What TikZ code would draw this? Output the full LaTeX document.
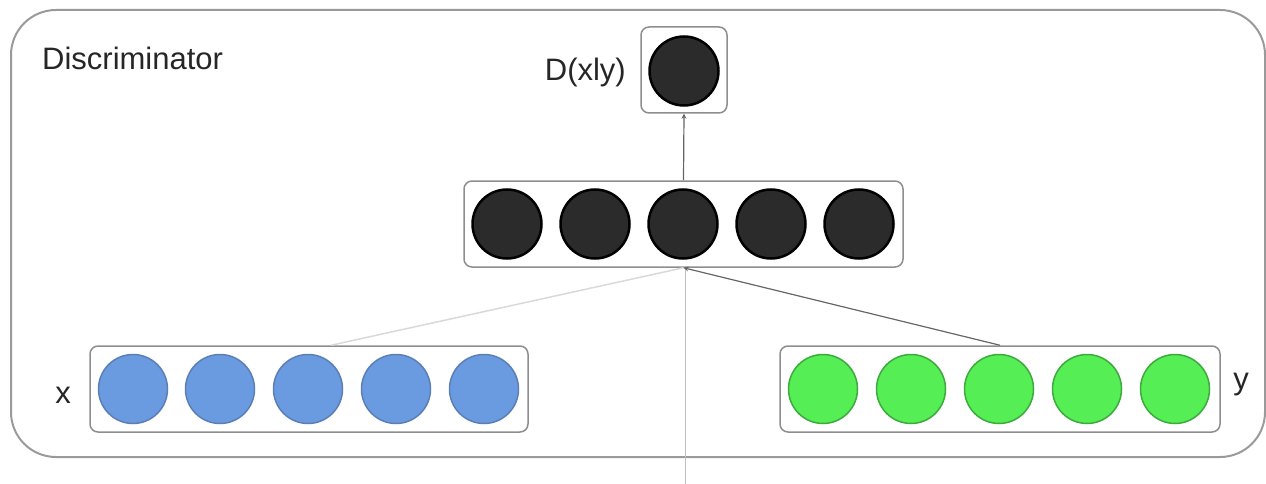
\documentclass[tikz,border=0pt]{standalone}
\usepackage{fontspec}
\setmainfont{Liberation Sans}
\usetikzlibrary{arrows.meta,calc}
\definecolor{boxgray}{HTML}{8E8E8E}
\definecolor{outergray}{HTML}{9A9A9A}
\definecolor{darkfill}{HTML}{2B2B2B}
\definecolor{bluefill}{HTML}{6A9BE0}
\definecolor{blueline}{HTML}{5A7FB5}
\definecolor{greenfill}{HTML}{55EE55}
\definecolor{greenline}{HTML}{3DAA3D}
\tikzset{
  outerbox/.style={draw=outergray, line width=2pt, rounded corners=45pt},
  layerbox/.style={draw=boxgray, line width=1.5pt, rounded corners=8pt, fill=white, inner sep=0pt},
  neuron/.style={circle, minimum size=69pt, inner sep=0pt, line width=1.5pt},
  darkneuron/.style={neuron, draw=black, fill=darkfill, line width=2.5pt},
  blueneuron/.style={neuron, draw=blueline, fill=bluefill},
  greenneuron/.style={neuron, draw=greenline, fill=greenfill},
  lbl/.style={font=\fontsize{31}{36}\selectfont, text=black!85, inner sep=0pt},
  conn/.style={draw=black!60, line width=1.2pt, -{Stealth[length=5pt,width=5pt]}},
  faint/.style={draw=black!15, line width=1.5pt},
  guide/.style={draw=black!25, line width=0.8pt}
}
\begin{document}
\begin{tikzpicture}[x=1pt,y=-1pt]
\useasboundingbox (0,0) rectangle (1266,484);
\draw[outerbox] (11,10) rectangle (1265,457);
\node[lbl, anchor=west] (title) at (42,58) {Discriminator};

% output layer
\node[layerbox, minimum width=86pt, minimum height=86pt] (outbox) at (684,70) {};
\node[darkneuron] (o1) at (684,71) {};
\node[lbl, anchor=east] (dlabel) at (626,72) {D(xly)};

% hidden layer
\node[layerbox, minimum width=439pt, minimum height=86pt] (hid) at (683.5,224) {};
\foreach \i/\x in {1/507,2/595,3/683,4/771,5/859}
  \node[darkneuron] (h\i) at (\x,224) {};

% x layer
\node[layerbox, minimum width=438pt, minimum height=86pt] (xbox) at (309,389) {};
\foreach \i/\x in {1/133,2/220,3/308,4/396,5/484}
  \node[blueneuron] (x\i) at (\x,389) {};
\node[lbl, anchor=center] (xlabel) at (63,395) {x};

% y layer
\node[layerbox, minimum width=440pt, minimum height=86pt] (ybox) at (1000,389) {};
\foreach \i/\x in {1/823,2/911,3/999,4/1087,5/1175}
  \node[greenneuron] (y\i) at (\x,389) {};
\node[lbl, anchor=center] (ylabel) at (1241,385) {y};

% connectors
\coordinate (bottom) at (687,484);
\draw[guide] ([xshift=2pt]hid.south) -- ([xshift=2pt]hid.south |- bottom);
\draw[faint] ([xshift=22pt]xbox.north) -- (hid.south);
\draw[conn] (ybox.north) -- (hid.south);
\draw[conn] (hid.north) -- (outbox.south);
\end{tikzpicture}
\end{document}
